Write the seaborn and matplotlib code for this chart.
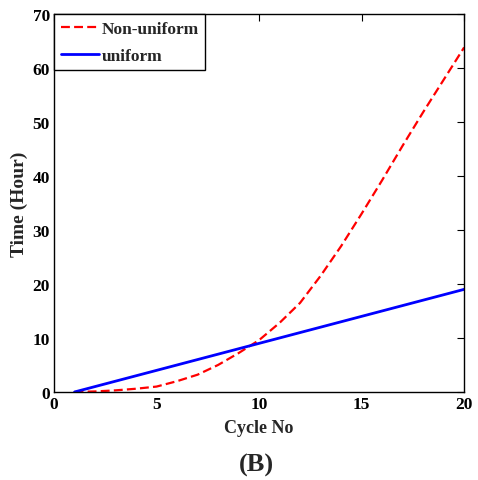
import matplotlib
matplotlib.use("Agg")
import matplotlib.pyplot as plt
import seaborn as sns
import pandas as pd

cycles = [1, 2, 3, 4, 5, 6, 7, 8, 9, 10, 11, 12, 13, 14, 15, 16, 17, 18, 19, 20]
non_uniform = [0, 0.1, 0.3, 0.6, 1.0, 2.0, 3.2, 5.0, 7.2, 9.6, 12.8, 16.5, 21.5, 27.0, 33.0, 39.2, 45.6, 51.8, 57.8, 63.8]
uniform = [0, 1, 2, 3, 4, 5, 6, 7, 8, 9, 10, 11, 12, 13, 14, 15, 16, 17, 18, 19]
x_ticks = [0, 5, 10, 15, 20]
y_ticks = [0, 10, 20, 30, 40, 50, 60, 70]

sns.set_style("white")
plt.rcParams['font.family'] = ['Liberation Serif', 'DejaVu Serif']
plt.rcParams['font.weight'] = 'bold'

df = pd.DataFrame({"cycle": cycles, "Non-uniform": non_uniform, "uniform": uniform})

fig = plt.figure(figsize=(4.78, 4.81), dpi=100)
ax = fig.add_axes([0.113, 0.183, 0.858, 0.786])

sns.lineplot(data=df, x="cycle", y="Non-uniform", ax=ax, color="#ff0000",
             linestyle=(0, (4.0, 1.9)), linewidth=1.6, label="Non-uniform")
sns.lineplot(data=df, x="cycle", y="uniform", ax=ax, color="#0000ff",
             linewidth=2.0, label="uniform")

ax.set_xlim(0, 20)
ax.set_ylim(0, 70)
ax.set_xticks(x_ticks)
ax.set_yticks(y_ticks)
ax.tick_params(direction="in", length=5, width=0.8, top=True, right=True,
               labelsize=12.5, pad=3, colors="black")
for lab in ax.get_xticklabels() + ax.get_yticklabels():
    lab.set_fontweight("bold")
for s in ax.spines.values():
    s.set_color("black")
    s.set_linewidth(1.0)

ax.set_xlabel("Cycle No", fontsize=13, fontweight="bold", labelpad=5)
ax.set_ylabel("Time (Hour)", fontsize=14, fontweight="bold", labelpad=3)

leg = ax.legend(loc="upper left", borderaxespad=0, fancybox=False, framealpha=1,
                edgecolor="black", prop={"weight": "bold", "size": 12.5},
                handlelength=2.2, handletextpad=0.15, borderpad=0.38, labelspacing=0.62)
leg.get_frame().set_linewidth(1.0)

fig.text(0.536, 0.033, "(B)", fontsize=19, fontweight="bold", ha="center", va="center")

fig.savefig("out.png", dpi=100)
